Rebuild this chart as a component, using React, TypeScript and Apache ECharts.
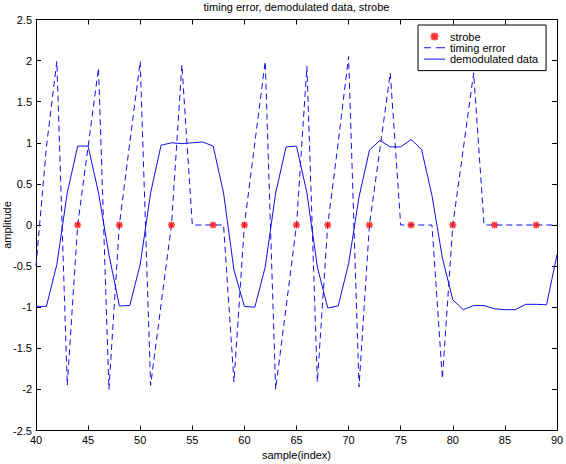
import React, { useEffect, useRef } from "react";
import * as echarts from "echarts";

const samples = [
  40, 41, 42, 43, 44, 45, 46, 47, 48, 49, 50, 51, 52, 53, 54, 55, 56, 57, 58, 59, 60, 61, 62, 63, 64, 65,
  66, 67, 68, 69, 70, 71, 72, 73, 74, 75, 76, 77, 78, 79, 80, 81, 82, 83, 84, 85, 86, 87, 88, 89, 90,
];

const timingError = [
  -0.5, 0.95, 1.99, -1.95, 0, 0.95, 1.91, -2.0, 0, 1.0, 1.99, -1.95, -0.97, 0, 1.95, 0, 0, 0, 0, -1.91,
  0, 1.0, 1.99, -2.0, -1.0, 0, 1.93, -1.91, 0, 1.0, 2.05, -1.97, 0, 0.92, 1.85, 0, 0, 0, 0, -1.87, 0,
  0.92, 1.85, 0, 0, 0, 0, 0, 0, 0, 0,
];

const demodulated = [
  -0.99, -0.99, -0.48, 0.39, 0.96, 0.96, 0.39, -0.36, -0.985, -0.98, -0.48, 0.39, 0.97, 1.0, 0.99, 1.0,
  1.01, 0.96, 0.39, -0.55, -0.99, -1.0, -0.51, 0.39, 0.95, 0.96, 0.39, -0.51, -1.01, -0.985, -0.47, 0.34,
  0.91, 1.03, 0.95, 0.95, 1.04, 0.92, 0.36, -0.4, -0.91, -1.03, -0.98, -0.98, -1.02, -1.03, -1.03, -0.965,
  -0.965, -0.97, -0.36,
];

const strobeX = [44, 48, 53, 57, 60, 65, 68, 72, 76, 80, 84, 88];
const strobeY = [0, 0, 0, 0, 0, 0, 0, 0, 0, 0, 0, 0];

const FONT = "'Liberation Sans', Arial, Helvetica, sans-serif";
const BLUE = "#1010e8";

export default function App() {
  const ref = useRef<HTMLDivElement>(null);
  useEffect(() => {
    if (!ref.current) return;
    const chart = echarts.init(ref.current, null, { renderer: "svg" });
    const axisCommon = {
      axisLine: { show: true, onZero: false, lineStyle: { color: "#000", width: 1 } },
      axisTick: { show: true, inside: true, length: 5, lineStyle: { color: "#000" } },
      splitLine: { show: false },
    };
    chart.setOption({
      animation: false,
      backgroundColor: "#fff",
      textStyle: { fontFamily: FONT },
      title: {
        text: "timing error, demodulated data, strobe",
        left: 296.5,
        textAlign: "center",
        top: 1,
        padding: 0,
        textStyle: { fontFamily: FONT, fontSize: 11, fontWeight: "normal", color: "#000" },
      },
      grid: {
        left: 36,
        right: 9,
        top: 19.5,
        bottom: 33.5,
        containLabel: false,
        outerBoundsMode: "none",
      },
      legend: {
        orient: "vertical",
        left: 418,
        top: 25,
        padding: [6, 8, 6, 6],
        itemGap: 0.3,
        itemWidth: 21,
        itemHeight: 8,
        borderColor: "#000",
        borderWidth: 1,
        backgroundColor: "#fff",
        borderRadius: 0,
        textStyle: { fontFamily: FONT, fontSize: 11, color: "#000", lineHeight: 11 },
        data: [
          { name: "strobe" },
          { name: "timing error", icon: "path://M0,0h7v1h-7zM12,0h9v1h-9z", itemStyle: { color: BLUE } },
          { name: "demodulated data", icon: "path://M0,0h21v1h-21z", itemStyle: { color: BLUE } },
        ],
        z: 10,
      },
      xAxis: [
        {
          type: "value",
          position: "bottom",
          min: 40,
          max: 90,
          interval: 5,
          name: "sample(index)",
          nameLocation: "middle",
          nameGap: 19,
          nameMoveOverlap: false,
          nameTextStyle: { fontFamily: FONT, fontSize: 11, color: "#000" },
          axisLabel: { fontFamily: FONT, fontSize: 11, color: "#000", margin: 4 },
          ...axisCommon,
        },
        {
          type: "value",
          position: "top",
          min: 40,
          max: 90,
          interval: 5,
          axisLabel: { show: false },
          ...axisCommon,
        },
      ],
      yAxis: [
        {
          type: "value",
          position: "left",
          min: -2.5,
          max: 2.5,
          interval: 0.5,
          name: "amplitude",
          nameLocation: "middle",
          nameGap: 24,
          nameMoveOverlap: false,
          nameTextStyle: { fontFamily: FONT, fontSize: 11, color: "#000" },
          axisLabel: { fontFamily: FONT, fontSize: 11, color: "#000", margin: 4 },
          ...axisCommon,
        },
        {
          type: "value",
          position: "right",
          min: -2.5,
          max: 2.5,
          interval: 0.5,
          axisLabel: { show: false },
          ...axisCommon,
        },
      ],
      series: [
        {
          name: "strobe",
          type: "scatter",
          data: strobeX.map((x, i) => [x, strobeY[i]]),
          symbol: "path://M0,-4L0,4M-4,0L4,0M-3,-3L3,3M-3,3L3,-3",
          symbolSize: 7,
          itemStyle: { color: "#ff0000", borderColor: "#ff0000", borderWidth: 1.5 },
          z: 4,
        },
        {
          name: "timing error",
          type: "line",
          data: samples.map((x, i) => [x, timingError[i]]),
          symbol: "none",
          showSymbol: false,
          lineStyle: { color: BLUE, width: 1, type: [6, 4] },
          itemStyle: { color: BLUE },
          z: 3,
        },
        {
          name: "demodulated data",
          type: "line",
          data: samples.map((x, i) => [x, demodulated[i]]),
          symbol: "none",
          showSymbol: false,
          lineStyle: { color: BLUE, width: 1, type: "solid" },
          itemStyle: { color: BLUE },
          z: 3,
        },
      ],
    });
    return () => chart.dispose();
  }, []);
  return (
    <div
      ref={ref}
      style={{ position: "absolute", left: 0, top: 0, width: 566, height: 464 }}
    />
  );
}
